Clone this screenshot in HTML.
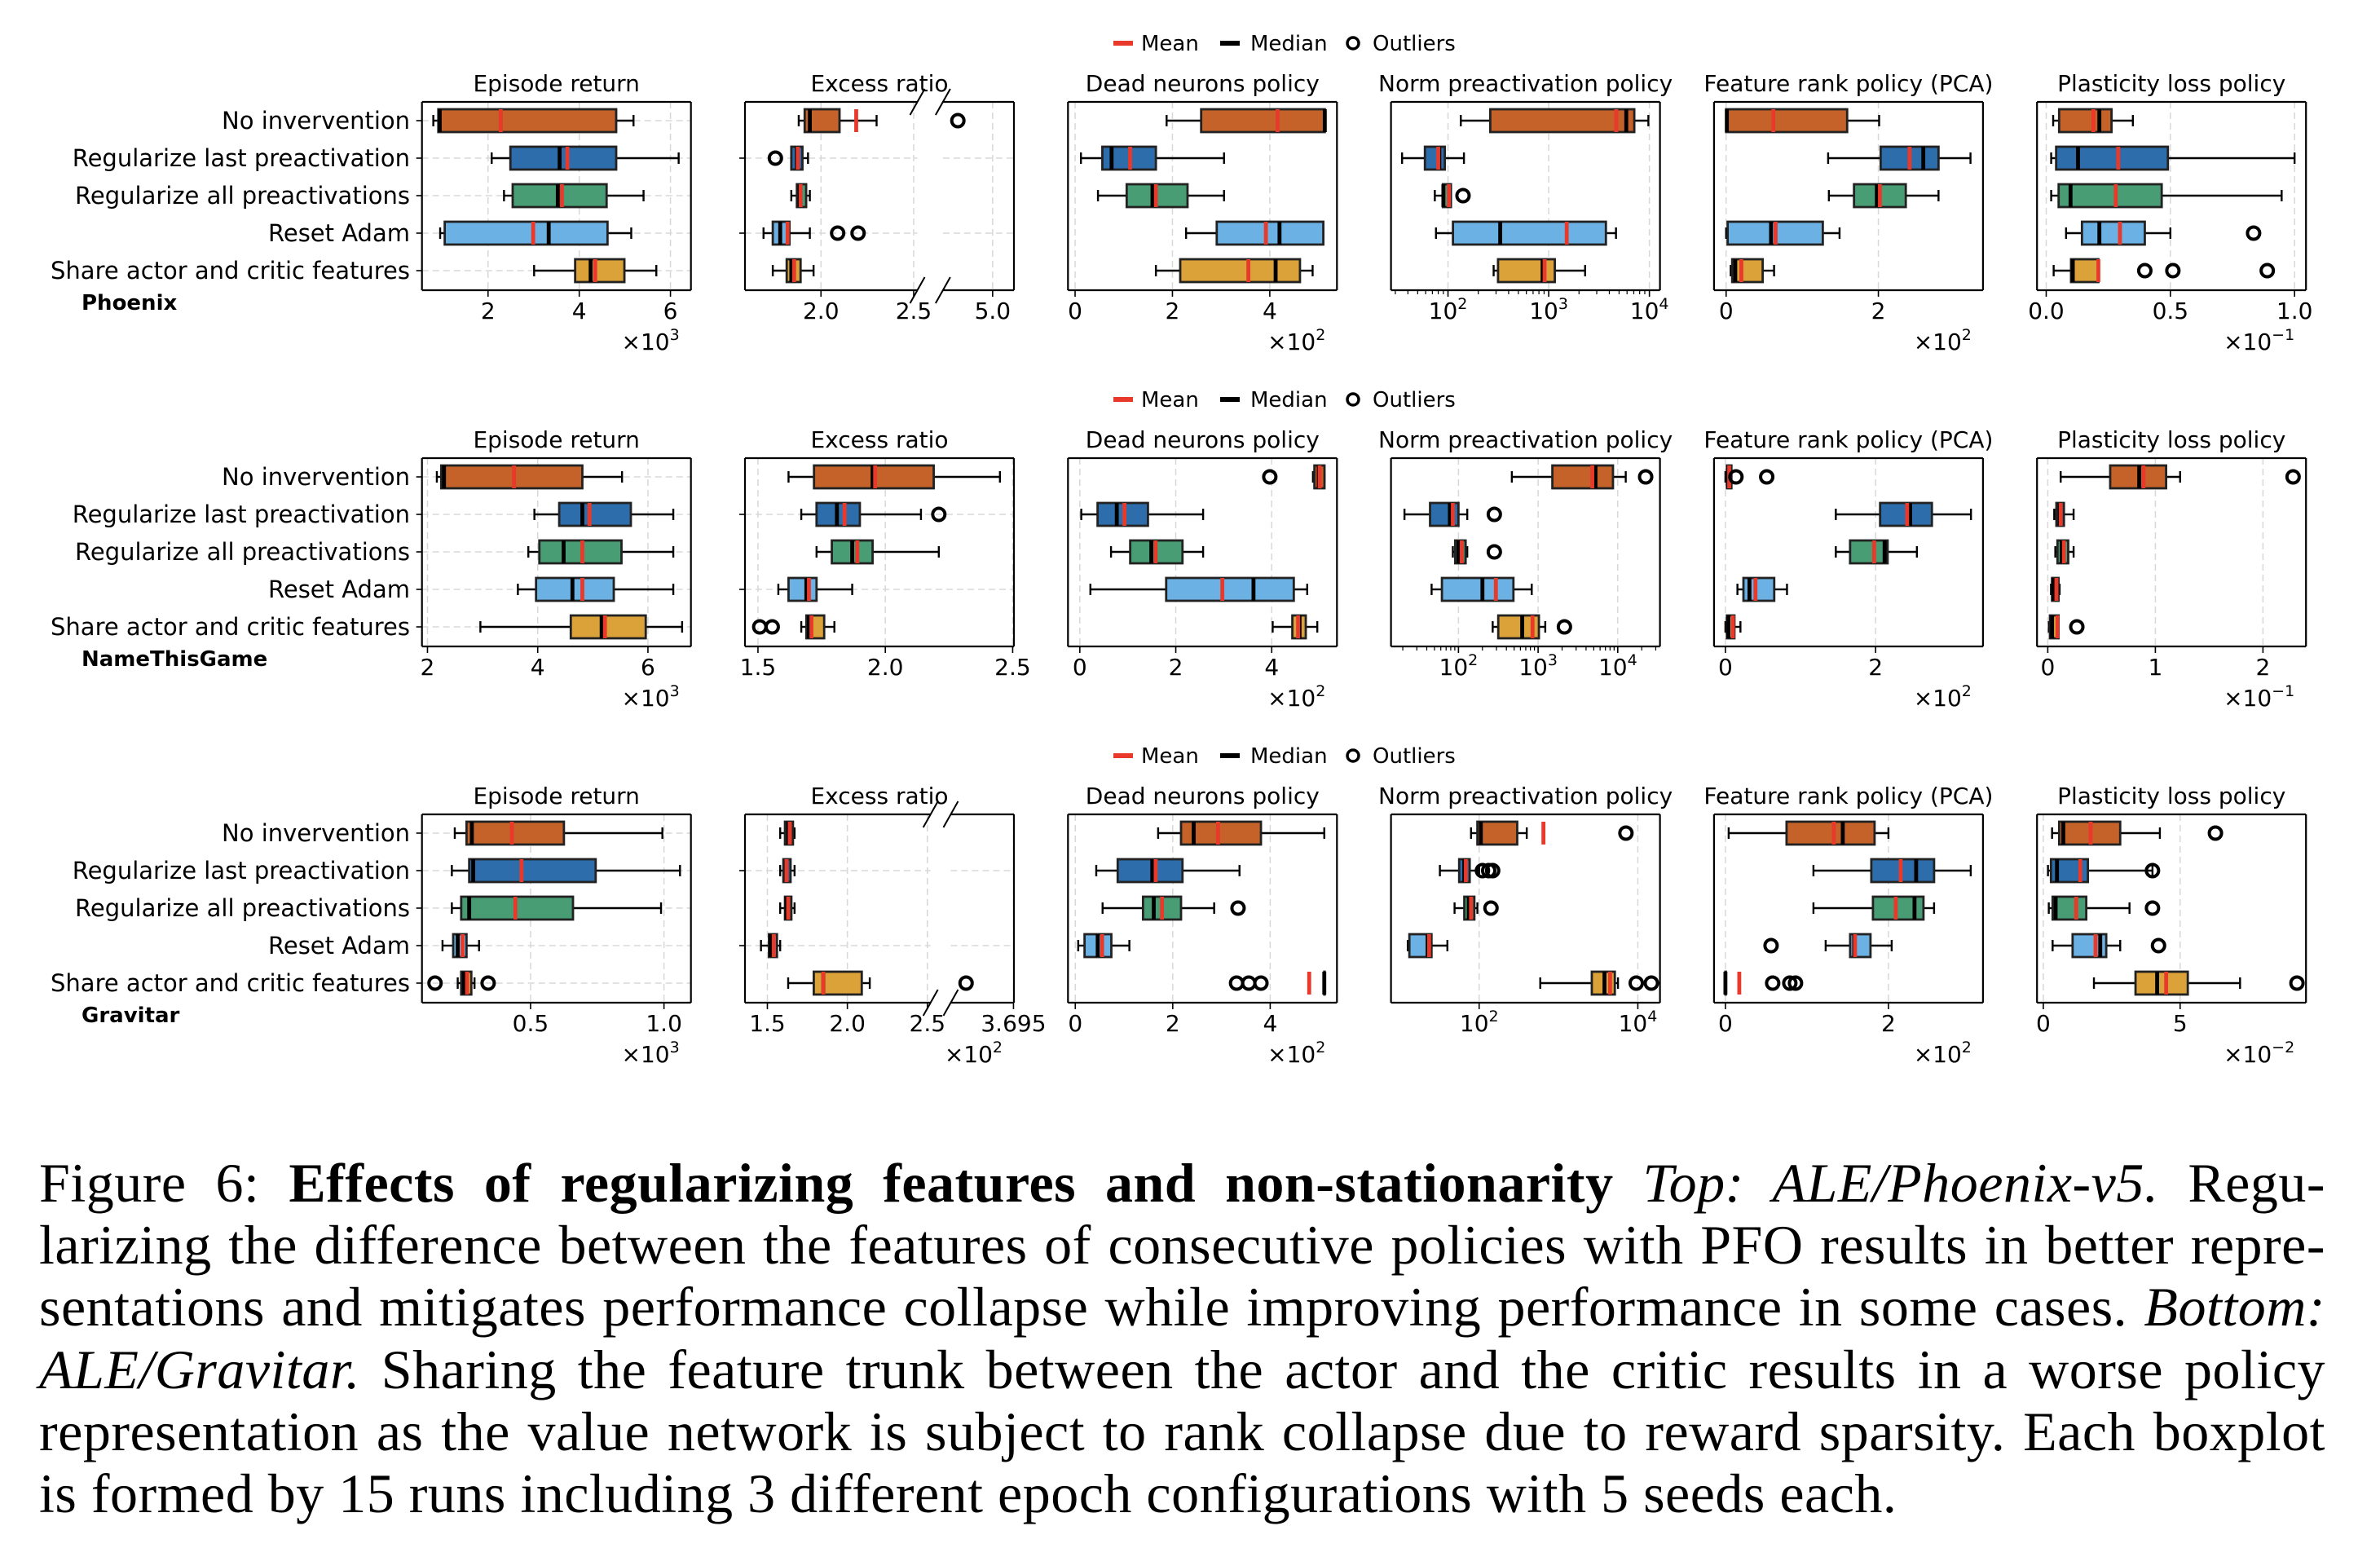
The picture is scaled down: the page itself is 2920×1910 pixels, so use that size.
<!DOCTYPE html>
<html><head><meta charset="utf-8">
<style>
html,body{margin:0;padding:0;background:#fff;}
#wrap{position:relative;width:2920px;height:1910px;overflow:hidden;background:#fff;}
svg text{font-family:"DejaVu Sans","Liberation Sans",sans-serif;}
.cap{position:absolute;left:48px;width:2805px;font-family:"Liberation Serif","DejaVu Serif",serif;font-size:68px;line-height:76.2px;white-space:nowrap;color:#000;letter-spacing:0.5px;}
.j{text-align:justify;text-align-last:justify;}
</style></head>
<body>
<div id="wrap">
<svg id="chart" width="2920" height="1400" viewBox="0 0 2920 1400" xmlns="http://www.w3.org/2000/svg" style="position:absolute;left:0;top:0"></svg>
<div>
<div class="cap j" style="top:1413px">Figure 6: <b>Effects of regularizing features and non-stationarity</b> <i>Top: ALE/Phoenix-v5.</i> Regu-</div>
<div class="cap j" style="top:1489px">larizing the difference between the features of consecutive policies with PFO results in better repre-</div>
<div class="cap j" style="top:1565px">sentations and mitigates performance collapse while improving performance in some cases. <i>Bottom:</i></div>
<div class="cap j" style="top:1642px"><i>ALE/Gravitar.</i> Sharing the feature trunk between the actor and the critic results in a worse policy</div>
<div class="cap j" style="top:1718px">representation as the value network is subject to rank collapse due to reward sparsity. Each boxplot</div>
<div class="cap" style="top:1794px">is formed by 15 runs including 3 different epoch configurations with 5 seeds each.</div>
</div>
</div>
<script>
// ---------- data ----------
const games = ["Phoenix","NameThisGame","Gravitar"];
const rowLabels = ["No invervention","Regularize last preactivation","Regularize all preactivations","Reset Adam","Share actor and critic features"];
const panelTitles = ["Episode return","Excess ratio","Dead neurons policy","Norm preactivation policy","Feature rank policy (PCA)","Plasticity loss policy"];
const boxColors = ["#c4622a","#2e6dab","#489d74","#6cb1e3","#dca23a"];
// each stat row: [whiskerLow, q1, median, q3, whiskerHigh, mean]
const phxReturn = [[0.80,0.91,0.94,4.81,5.19,2.28],[2.08,2.49,3.57,4.81,6.18,3.74],[2.35,2.54,3.53,4.60,5.41,3.62],[0.95,1.05,3.33,4.62,5.14,2.99],[3.01,3.91,4.25,4.99,5.69,4.35]];
const phxExcess = [[1.88,1.912,1.94,2.10,2.30,2.19],[1.84,1.84,1.87,1.90,1.93,1.875],[1.84,1.87,1.885,1.92,1.94,1.89],[1.69,1.74,1.78,1.83,1.94,1.82],[1.74,1.815,1.84,1.89,1.96,1.855]];
const phxDead = [[1.88,2.59,5.13,5.13,5.13,4.16],[0.12,0.56,0.75,1.66,3.06,1.13],[0.47,1.06,1.59,2.31,3.06,1.66],[2.28,2.91,4.20,5.10,5.10,3.92],[1.66,2.16,4.12,4.62,4.88,3.56]];
const phxNorm = [[134,263,5890,7080,9770,4680],[35,59,82,93,144,80],[74,89,90,107,107,102],[76,112,330,3700,4660,1510],[284,314,870,1150,2300,910]];
const phxRank = [[0,0,0.01,1.59,2.01,0.62],[1.34,2.03,2.59,2.79,3.21,2.41],[1.35,1.68,1.98,2.36,2.79,2.02],[0,0.02,0.59,1.27,1.49,0.65],[0.06,0.08,0.12,0.48,0.63,0.2]];
const phxPlast = [[0.028,0.052,0.214,0.263,0.349,0.19],[0.02,0.04,0.128,0.49,1.0,0.29],[0.02,0.05,0.098,0.465,0.948,0.28],[0.08,0.144,0.214,0.397,0.50,0.297],[0.03,0.10,0.107,0.21,0.21,0.21]];
const ntgReturn = [[2.17,2.25,2.30,4.81,5.53,3.57],[3.94,4.39,4.81,5.69,6.46,4.94],[3.83,4.03,4.47,5.52,6.46,4.81],[3.64,3.97,4.63,5.38,6.46,4.81],[2.96,4.60,5.16,5.96,6.62,5.22]];
const ntgExcess = [[1.62,1.72,1.95,2.19,2.45,1.96],[1.67,1.73,1.81,1.90,2.14,1.84],[1.73,1.79,1.87,1.95,2.21,1.89],[1.58,1.62,1.69,1.73,1.87,1.70],[1.67,1.69,1.70,1.76,1.80,1.71]];
const ntgDead = [[4.86,4.89,4.98,5.10,5.10,5.0],[0.03,0.37,0.77,1.42,2.57,0.93],[0.65,1.05,1.49,2.14,2.57,1.58],[0.22,1.80,3.62,4.46,4.74,2.97],[4.02,4.43,4.58,4.71,4.95,4.55]];
const ntgNorm = [[468,1510,5250,8710,12600,4790],[21,44,78,100,129,85],[85,91,100,123,129,110],[46,62,200,490,832,295],[269,316,631,1023,1230,851]];
const ntgRank = [[0,0.02,0.04,0.08,0.08,0.05],[1.47,2.06,2.46,2.75,3.27,2.42],[1.47,1.66,2.12,2.16,2.55,1.98],[0.16,0.24,0.32,0.65,0.82,0.40],[0,0.02,0.04,0.12,0.2,0.1]];
const ntgPlast = [[0.12,0.58,0.85,1.10,1.23,0.89],[0.06,0.08,0.11,0.15,0.24,0.12],[0.07,0.09,0.13,0.19,0.24,0.15],[0.03,0.04,0.05,0.10,0.11,0.08],[0.01,0.02,0.04,0.10,0.10,0.09]];
const grvReturn = [[0.216,0.26,0.28,0.625,0.994,0.43],[0.205,0.27,0.285,0.744,1.06,0.466],[0.205,0.24,0.27,0.659,0.989,0.443],[0.17,0.21,0.227,0.26,0.307,0.245],[0.227,0.24,0.25,0.278,0.29,0.262]];
const grvExcess = [[1.58,1.61,1.63,1.66,1.67,1.64],[1.58,1.60,1.62,1.645,1.67,1.62],[1.58,1.61,1.62,1.65,1.67,1.63],[1.46,1.51,1.52,1.56,1.58,1.54],[1.63,1.79,1.85,2.09,2.14,1.85]];
const grvDead = [[1.7,2.17,2.43,3.81,5.11,2.93],[0.43,0.87,1.58,2.2,3.37,1.65],[0.56,1.39,1.61,2.17,2.85,1.78],[0.06,0.19,0.46,0.74,1.11,0.55],[5.11,5.11,5.11,5.11,5.11,4.80]];
const grvNorm = [[79,95,105,302,398,646],[32,56,65,76,100,68],[49,65,74,87,95,79],[12.6,13.2,22.4,25.1,39.8,23.4],[589,2630,3800,5130,5620,4470]];
const grvRank = [[0.04,0.75,1.44,1.83,2.0,1.33],[1.08,1.79,2.34,2.56,3.01,2.15],[1.08,1.81,2.32,2.43,2.56,2.09],[1.23,1.53,1.58,1.78,2.04,1.59],[0,0,0,0,0,0.17]];
const grvPlast = [[0.32,0.58,0.73,2.81,4.26,1.73],[0.17,0.28,0.5,1.63,3.99,1.35],[0.2,0.34,0.45,1.57,3.15,1.2],[0.34,1.07,2.08,2.30,2.81,1.91],[1.85,3.37,4.16,5.28,7.19,4.49]];
// outliers per row
const phxExcessOut = [[4.51],[1.754],[],[2.09,2.20],[]];
const phxNormOut = [[],[],[141],[],[]];
const phxPlastOut = [[],[],[],[0.835],[0.397,0.51,0.89]];
const ntgExcessOut = [[],[2.21],[],[],[1.507,1.556]];
const ntgDeadOut = [[3.96],[],[],[],[]];
const ntgNormOut = [[22400],[282],[282],[],[2140]];
const ntgRankOut = [[0.14,0.55],[],[],[],[]];
const ntgPlastOut = [[2.28],[],[],[],[0.27]];
const grvReturnOut = [[],[],[],[],[0.142,0.341]];
const grvExcessOut = [[],[],[],[],[3.17]];
const grvDeadOut = [[],[],[3.34],[],[3.31,3.56,3.81]];
const grvNormOut = [[7080],[110,132,148],[141],[],[9550,14800]];
const grvRankOut = [[],[],[],[0.56],[0.58,0.79,0.86]];
const grvPlastOut = [[6.29],[3.99],[3.99],[4.21],[9.27]];
const none = [[],[],[],[],[]];
const statsGrid = [[phxReturn,phxExcess,phxDead,phxNorm,phxRank,phxPlast],[ntgReturn,ntgExcess,ntgDead,ntgNorm,ntgRank,ntgPlast],[grvReturn,grvExcess,grvDead,grvNorm,grvRank,grvPlast]];
const outGrid = [[none,phxExcessOut,none,phxNormOut,none,phxPlastOut],[none,ntgExcessOut,ntgDeadOut,ntgNormOut,ntgRankOut,ntgPlastOut],[grvReturnOut,grvExcessOut,grvDeadOut,grvNormOut,grvRankOut,grvPlastOut]];
// tick values / labels
const tickVals = [
 [[2,4,6],[2.0,2.5,5.0],[0,2,4],[100,1000,10000],[0,2],[0,0.5,1.0]],
 [[2,4,6],[1.5,2.0,2.5],[0,2,4],[100,1000,10000],[0,2],[0,1,2]],
 [[0.5,1.0],[1.5,2.0,2.5,3.695],[0,2,4],[100,10000],[0,2],[0,5]]];
const tickLabels = [
 [["2","4","6"],["2.0","2.5","5.0"],["0","2","4"],["2","3","4"],["0","2"],["0.0","0.5","1.0"]],
 [["2","4","6"],["1.5","2.0","2.5"],["0","2","4"],["2","3","4"],["0","2"],["0","1","2"]],
 [["0.5","1.0"],["1.5","2.0","2.5","3.695"],["0","2","4"],["2","4"],["0","2"],["0","5"]]];
const multExp = [["3","","2","","2","\u22121"],["3","","2","","2","\u22121"],["3","2","2","","2","\u22122"]];
// axis definitions
const axes = [
 [{t:'lin',d:[0.551,6.449]},{t:'brk',s:[[1.59,2.52,0,0.641],[4.3,5.3,0.736,1]]},{t:'lin',d:[-0.146,5.38]},{t:'log',d:[1.434,4.105],minor:true},{t:'lin',d:[-0.159,3.374]},{t:'lin',d:[-0.037,1.046]}],
 [{t:'lin',d:[1.9,6.78]},{t:'lin',d:[1.449,2.505]},{t:'lin',d:[-0.247,5.36]},{t:'log',d:[1.153,4.53],minor:true},{t:'lin',d:[-0.152,3.43]},{t:'lin',d:[-0.1,2.4]}],
 [{t:'lin',d:[0.093,1.101]},{t:'brk',s:[[1.36,2.52,0,0.690],[3.0,3.7,0.765,1]]},{t:'lin',d:[-0.15,5.37]},{t:'log',d:[0.889,4.279],minor:false},{t:'lin',d:[-0.14,3.16]},{t:'lin',d:[-0.23,9.6]}]];

// ---------- layout ----------
const rowTops = [125,562,999];
const panelH = 231, panelW = 330, panelX0 = 517.7, panelPitch = 396.3;
const NS = "http://www.w3.org/2000/svg";
const svg = document.getElementById('chart');
function mk(tag, attrs, parent){const e=document.createElementNS(NS,tag);for(const k in attrs)e.setAttribute(k,attrs[k]);(parent||svg).appendChild(e);return e;}
function frac(ax, v){
  if(ax.t==='lin') return (v-ax.d[0])/(ax.d[1]-ax.d[0]);
  if(ax.t==='log') return (Math.log10(v)-ax.d[0])/(ax.d[1]-ax.d[0]);
  const s=ax.s; const seg = (v<=s[0][1]+1e-9)? s[0] : s[1];
  return seg[2]+(v-seg[0])/(seg[1]-seg[0])*(seg[3]-seg[2]);
}

for(let g=0; g<3; g++){
  const top = rowTops[g];
  const gG = mk('g',{});
  
  
  // legend
  const ly = top-72;
  const lg = mk('g',{},gG);
  
  
  mk('rect',{x:1366,y:ly-3,width:24,height:6,fill:'#e8392a'},lg);
  const t1=mk('text',{x:1400,y:ly+9,'font-size':26},lg); t1.textContent='Mean';
  mk('rect',{x:1497,y:ly-3,width:24,height:6,fill:'#000'},lg);
  const t2=mk('text',{x:1534,y:ly+9,'font-size':26},lg); t2.textContent='Median';
  mk('circle',{cx:1660,cy:ly,r:7,fill:'none',stroke:'#000','stroke-width':3.5},lg);
  const t3=mk('text',{x:1684,y:ly+9,'font-size':26},lg); t3.textContent='Outliers';
  // game label
  const gl = mk('text',{x:100,y:top+255,'font-size':26,'font-weight':'bold'},gG);
  
  
  gl.textContent = games[g];
  // row labels
  for(let r=0;r<5;r++){
    const y = top+23+46*r;
    const rl = mk('text',{x:503,y:y+10,'font-size':29,'text-anchor':'end'},gG);
    
    
    rl.textContent = rowLabels[r];
  }
  for(let p=0;p<6;p++){
    const ax = axes[g][p];
    const x0 = panelX0 + p*panelPitch;
    const X = v => x0 + frac(ax,v)*panelW;
    const pg = mk('g',{},gG);
    
    
    const tt = mk('text',{x:x0+panelW/2,y:top-13,'font-size':28,'text-anchor':'middle'},pg);
    
    
    tt.textContent = panelTitles[p];
    const segs = ax.t==='brk' ? ax.s.map(s=>[s[2],s[3]]) : [[0,1]];
    tickVals[g][p].forEach(v=>{
      const x = X(v);
      mk('line',{x1:x,x2:x,y1:top,y2:top+panelH,stroke:'#d8d8d8','stroke-width':1.5,'stroke-dasharray':'8,5'},pg);
    });
    const hRows = p===0 ? [0,1,2,3,4] : (p===1 ? [1,3] : []);
    hRows.forEach(r=>{
      const y = top+23+46*r;
      segs.forEach(s=>mk('line',{x1:x0+s[0]*panelW,x2:x0+s[1]*panelW,y1:y,y2:y,stroke:'#d8d8d8','stroke-width':1.5,'stroke-dasharray':'8,5'},pg));
      mk('line',{x1:x0-7,x2:x0,y1:y,y2:y,stroke:'#000','stroke-width':1.6},pg);
    });
    const stats = statsGrid[g][p];
    const outs = outGrid[g][p];
    for(let r=0;r<5;r++){
      const s = stats[r]; const y = top+23+46*r; const h=14;
      const bg = mk('g',{},pg);
      
      
      mk('line',{x1:X(s[0]),x2:X(s[1]),y1:y,y2:y,stroke:'#000','stroke-width':2.4},bg);
      mk('line',{x1:X(s[3]),x2:X(s[4]),y1:y,y2:y,stroke:'#000','stroke-width':2.4},bg);
      mk('line',{x1:X(s[0]),x2:X(s[0]),y1:y-7,y2:y+7,stroke:'#000','stroke-width':2.4},bg);
      mk('line',{x1:X(s[4]),x2:X(s[4]),y1:y-7,y2:y+7,stroke:'#000','stroke-width':2.4},bg);
      const bx = X(s[1]), bw = Math.max(X(s[3])-X(s[1]),0.5);
      mk('rect',{x:bx,y:y-h,width:bw,height:2*h,fill:boxColors[r],stroke:'#222','stroke-width':2.8},bg);
      mk('line',{x1:X(s[2]),x2:X(s[2]),y1:y-h,y2:y+h,stroke:'#000','stroke-width':4.8},bg);
      mk('line',{x1:X(s[5]),x2:X(s[5]),y1:y-h,y2:y+h,stroke:'#e8392a','stroke-width':4.8},bg);
      outs[r].forEach(v=>{
        const c = mk('circle',{cx:X(v),cy:y,r:7.5,fill:'none',stroke:'#000','stroke-width':4},bg);
        
        
      });
    }
    segs.forEach((s,i)=>{
      const xa=x0+s[0]*panelW, xb=x0+s[1]*panelW;
      mk('line',{x1:xa,x2:xb,y1:top,y2:top,stroke:'#000','stroke-width':2.2},pg);
      mk('line',{x1:xa,x2:xb,y1:top+panelH,y2:top+panelH,stroke:'#000','stroke-width':2.2},pg);
      if(i===0) mk('line',{x1:xa,x2:xa,y1:top,y2:top+panelH,stroke:'#000','stroke-width':2.2},pg);
      if(i===segs.length-1) mk('line',{x1:xb,x2:xb,y1:top,y2:top+panelH,stroke:'#000','stroke-width':2.2},pg);
      if(segs.length>1){
        const xe = i===0 ? xb : xa;
        [top, top+panelH].forEach(yy=>mk('line',{x1:xe-9,x2:xe+9,y1:yy+16,y2:yy-16,stroke:'#000','stroke-width':2},pg));
      }
    });
    tickVals[g][p].forEach((v,i)=>{
      const x = X(v);
      mk('line',{x1:x,x2:x,y1:top+panelH,y2:top+panelH+8,stroke:'#000','stroke-width':1.6},pg);
      const lab = mk('text',{x:x,y:top+266,'font-size':28,'text-anchor':'middle'},pg);
      
      
      if(ax.t==='log'){
        lab.textContent='10';
        const sup = mk('tspan',{dy:-12,'font-size':19},lab); sup.textContent=tickLabels[g][p][i];
      } else lab.textContent = tickLabels[g][p][i];
    });
    if(ax.t==='log' && ax.minor){
      for(let e=Math.floor(ax.d[0]); e<=Math.ceil(ax.d[1]); e++){
        for(let m=2;m<=9;m++){
          const v=m*Math.pow(10,e); const f=frac(ax,v);
          if(f<0||f>1) continue;
          const x=X(v);
          mk('line',{x1:x,x2:x,y1:top+panelH,y2:top+panelH+5,stroke:'#000','stroke-width':1.2},pg);
        }
      }
    }
    if(multExp[g][p]){
      const m = mk('text',{x:x0+panelW-14,y:top+304,'font-size':28,'text-anchor':'end'},pg);
      
      
      m.textContent='\u00d710';
      const sup = mk('tspan',{dy:-12,'font-size':19},m); sup.textContent=multExp[g][p];
    }
  }
}
</script>
</body></html>
